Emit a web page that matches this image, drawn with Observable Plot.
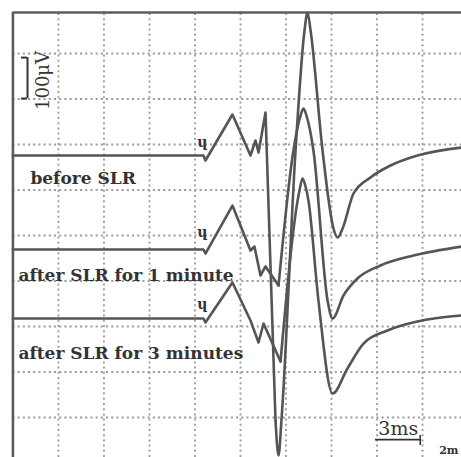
<!DOCTYPE html>
<html>
<head>
<meta charset="utf-8">
<script src="https://cdn.jsdelivr.net/npm/d3@7"></script>
<script src="https://cdn.jsdelivr.net/npm/@observablehq/plot@0.6"></script>
<style>
  html, body { margin: 0; padding: 0; background: #fff; }
  #chart svg { display: block; }
</style>
</head>
<body>
<div id="chart"></div>
<script>
// ---- Data (time in ms, amplitude in µV on the screen grid; 3 ms and 100 µV per division) ----
const traceNames = ["before SLR", "after SLR for 1 minute", "after SLR for 3 minutes"];

const beforeT = [0, 12.56, 12.69, 14.47, 15.66, 15.99, 16.19, 16.65, 17.31, 17.51, 17.70, 18.63, 19.22, 19.42, 19.62, 20.41, 21.13, 21.40, 21.73, 22.45, 23.57, 24.89, 26.67, 29.57];
const beforeV = [675.8, 675.8, 664.8, 765.9, 675.8, 708.8, 682.4, 770.3, 93.4, 16.5, 93.4, 686.8, 950.5, 990.1, 950.5, 686.8, 515.4, 495.6, 515.4, 592.3, 627.5, 653.8, 675.8, 693.4];

const after1T = [0, 12.56, 12.69, 14.47, 15.66, 15.92, 16.32, 16.65, 17.51, 18.49, 18.96, 19.15, 19.35, 19.81, 20.74, 21.07, 21.79, 22.71, 24.23, 26.41, 29.57];
const after1V = [469.2, 469.2, 460.4, 565.9, 467.0, 475.8, 412.1, 431.9, 390.1, 686.8, 763.7, 779.1, 763.7, 686.8, 357.1, 317.6, 368.1, 405.5, 434.1, 456.0, 475.8];

const after3T = [0, 12.56, 12.69, 14.47, 15.66, 16.19, 16.52, 17.64, 18.89, 19.09, 19.29, 19.48, 20.14, 21.07, 22.05, 23.11, 24.69, 26.67, 29.57];
const after3V = [317.6, 317.6, 308.8, 396.7, 313.2, 264.8, 306.6, 223.1, 598.9, 625.3, 607.7, 576.9, 357.1, 152.7, 207.7, 262.6, 291.2, 311.0, 324.2];

// label anchors (left end of each caption)
const labelT = [1.15, 0.36, 0.36];
const labelV = [625.3, 412.1, 240.7];

// stimulus markers
const stimT = 12.49;
const stimV = [704, 506, 348];

// grid ticks
const xGrid = [3, 6, 9, 12, 15, 18, 21, 24, 27];
const yGrid = [100, 200, 300, 400, 500, 600, 700, 800, 900];

// calibration bars
const ampBarV = [801, 891];      // 100 µV bracket
const ampBarT = [0.56, 0.96];
const timeBarT = [23.9, 26.9];   // 3 ms bar
const timeBarV = 51.6;
const timeLabel = "3ms";
const ampLabel = "100μV";
const cornerLabel = "2m";

// screen frame
const frameTop = 990.1;
const frameLeft = 0;
const xDomain = [-0.82, 29.57];
const yDomain = [12.1, 1016.5];

// ---- build tables ----
// The stimulus artefact and early wavelets are drawn with straight segments,
// the main spike and the slow recovery with a smooth curve.
const traces = [
  {name: traceNames[0], t: beforeT, v: beforeV, split: 8},
  {name: traceNames[1], t: after1T, v: after1V, split: 8},
  {name: traceNames[2], t: after3T, v: after3V, split: 7}
];
const earlyRows = traces.flatMap(tr => tr.t.slice(0, tr.split + 1).map((t, i) => ({name: tr.name, t, v: tr.v[i]})));
const lateRows = traces.flatMap(tr => tr.t.slice(tr.split).map((t, i) => ({name: tr.name, t, v: tr.v[i + tr.split]})));
const labels = traceNames.map((n, i) => ({name: n, t: labelT[i], v: labelV[i]}));
const stims = stimV.map(v => ({t: stimT, v}));

const serif = "'DejaVu Serif', 'Liberation Serif', serif";
const ink = "#333";
const traceColor = "#555";

const chart = Plot.plot({
  width: 461,
  height: 457,
  margin: 0,
  x: {domain: xDomain, axis: null},
  y: {domain: yDomain, axis: null},
  style: {background: "#fff"},
  marks: [
    // dotted grid
    Plot.ruleX(xGrid, {x: d => d, y1: yDomain[0], y2: frameTop, stroke: "#9a9a9a", strokeWidth: 1.8, strokeDasharray: "2,3.2"}),
    Plot.ruleY(yGrid, {y: d => d, x1: frameLeft, x2: xDomain[1], stroke: "#9a9a9a", strokeWidth: 1.8, strokeDasharray: "2,3.2"}),
    // frame
    Plot.ruleY([frameTop], {x1: frameLeft, x2: xDomain[1], stroke: "#5c5c5c", strokeWidth: 2.6}),
    Plot.ruleX([frameLeft], {y1: yDomain[0], y2: frameTop, stroke: "#5c5c5c", strokeWidth: 2.6}),
    // captions
    Plot.text(labels, {x: "t", y: "v", text: "name", textAnchor: "start", fontFamily: serif, fontWeight: "bold", fontSize: 17, fill: ink, letterSpacing: "-0.5px"}),
    // traces
    Plot.line(earlyRows, {x: "t", y: "v", z: "name", curve: "linear", stroke: traceColor, strokeWidth: 2.6, strokeLinejoin: "round"}),
    Plot.line(lateRows, {x: "t", y: "v", z: "name", curve: "monotone-x", stroke: traceColor, strokeWidth: 2.6, strokeLinejoin: "round"}),
    // stimulus markers
    Plot.text(stims, {x: "t", y: "v", text: () => "ɥ", fontFamily: serif, fontWeight: "bold", fontSize: 14, fill: ink}),
    // 100 µV bracket
    Plot.ruleX([ampBarT[1]], {y1: ampBarV[0], y2: ampBarV[1], stroke: ink, strokeWidth: 2}),
    Plot.ruleY(ampBarV, {y: d => d, x1: ampBarT[0], x2: ampBarT[1], stroke: ink, strokeWidth: 2}),
    Plot.text([ampLabel], {x: 2.01, y: 840.7, text: d => d, rotate: -90, fontFamily: serif, fontSize: 18, fill: ink}),
    // 3 ms bar
    Plot.ruleY([timeBarV], {x1: timeBarT[0], x2: timeBarT[1], stroke: ink, strokeWidth: 1.8}),
    Plot.ruleX([timeBarT[1] - 0.05], {y1: 38.5, y2: 60.4, stroke: ink, strokeWidth: 1.6}),
    Plot.text([timeLabel], {x: (timeBarT[0] + timeBarT[1]) / 2, y: 75.8, text: d => d, fontFamily: serif, fontSize: 19, fill: ink, letterSpacing: "-0.5px"}),
    Plot.text([cornerLabel], {x: 28.1, y: 27, text: d => d, textAnchor: "start", fontFamily: serif, fontWeight: "bold", fontSize: 11, fill: ink})
  ]
});
document.getElementById("chart").append(chart);
</script>
</body>
</html>
